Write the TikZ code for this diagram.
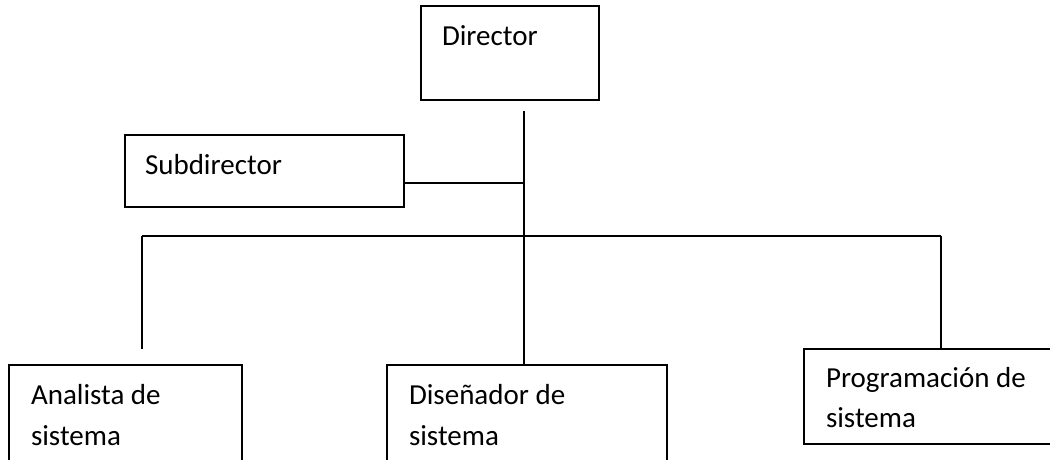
\documentclass[tikz,border=0pt]{standalone}
\usepackage{fontspec}
\setmainfont{Carlito}
\begin{document}
\begin{tikzpicture}[x=1pt,y=-1pt,
  box/.style={draw=black, line width=1.6pt, rectangle, inner sep=0pt, outer sep=0pt},
  txt/.style={anchor=base west, inner sep=0pt, outer sep=0pt, font=\fontsize{29}{40}\selectfont},
  conn/.style={draw=black, line width=1.5pt}]
\useasboundingbox (0,0) rectangle (1050,459);
\fill[white] (0,0) rectangle (1050,459);
\clip (0,0) rectangle (1050,459);
% boxes
\node[box, minimum width=178pt, minimum height=94pt] (dir) at (510,53) {};
\node[box, minimum width=279pt, minimum height=72pt] (sub) at (264.5,171) {};
\node[box, minimum width=233pt, minimum height=110pt] (ana) at (125.5,420) {};
\node[box, minimum width=280pt, minimum height=110pt] (dis) at (527,420) {};
\node[box, minimum width=256pt, minimum height=95pt] (prog) at (932,396.5) {};
% texts
\node[txt] (dirt) at (442,45) {Director};
\node[txt] (subt) at (145,174) {Subdirector};
\node[txt] (anat1) at (31,404) {Analista de};
\node[txt] (anat2) at (31,445) {sistema};
\node[txt] (dist1) at (409,404) {Diseñador de};
\node[txt] (dist2) at (409,445) {sistema};
\node[txt] (progt1) at (826,387) {Programación de};
\node[txt] (progt2) at (826,427) {sistema};
% connectors
\coordinate (vtop) at (524,111);
\coordinate (vsub) at (524,183);
\coordinate (hleft) at (142,236);
\coordinate (hright) at (941,236);
\coordinate (aend) at (142,349);
\draw[conn] (vtop) -- (vtop |- dis.north);
\draw[conn] (sub.east |- vsub) -- (vsub);
\draw[conn] (hleft) -- (hright);
\draw[conn] (hleft) -- (aend);
\draw[conn] (hright) -- (hright |- prog.north);
\end{tikzpicture}
\end{document}
